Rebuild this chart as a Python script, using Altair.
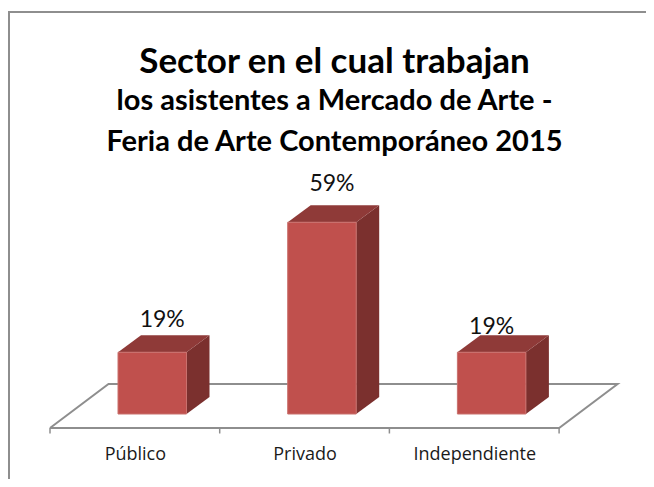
import altair as alt
import pandas as pd

categories = ["Público", "Privado", "Independiente"]
values = [19, 59, 19]
labels = ["19%", "59%", "19%"]

# scale geometry (band units on x, percent on y)
BAND = 169.7
PX = 3.25
bar_w = 68.5 / BAND
bar_off = 68 / BAND
depth_x = 23 / BAND
depth_y = 17 / PX
floor_dx = 58.5 / BAND
floor_front = -14 / PX
floor_back = 30 / PX
tick_end = -19.5 / PX
xs = alt.Scale(domain=[0, 569 / BAND], nice=False, zero=False)
ys = alt.Scale(domain=[floor_front, 254 / PX], nice=False, zero=False)
GRAY = "#8e8e8e"

front = pd.DataFrame([
    {"c": c, "x": i + bar_off, "x2": i + bar_off + bar_w, "y": 0, "y2": v}
    for i, (c, v) in enumerate(zip(categories, values))
])
side = pd.DataFrame([
    {"c": c, "x": i + bar_off + bar_w + d * depth_x, "y": d * depth_y, "y2": v + d * depth_y}
    for i, (c, v) in enumerate(zip(categories, values)) for d in (0, 1)
])
top = pd.DataFrame([
    {"c": c, "y": v + d * depth_y, "x": i + bar_off + d * depth_x, "x2": i + bar_off + bar_w + d * depth_x}
    for i, (c, v) in enumerate(zip(categories, values)) for d in (0, 1)
])
floor = pd.DataFrame({
    "o": [0, 1, 2, 3, 4],
    "x": [0, 3, 3 + floor_dx, floor_dx, 0],
    "y": [floor_front, floor_front, floor_back, floor_back, floor_front],
})
ticks = pd.DataFrame({"x": [0, 1, 2, 3], "y": [floor_front] * 4, "y2": [tick_end] * 4})

XAX = alt.Axis(
    values=[0.5, 1.5, 2.5],
    labelExpr="datum.value < 1 ? 'Público' : datum.value < 2 ? 'Privado' : 'Independiente'",
    domain=False, ticks=False, grid=False, title=None,
    labelFont="Open Sans", labelFontSize=18, labelColor="#1a1a1a",
    labelPadding=17, labelFlush=False, labelOverlap=False)
X = lambda f="x": alt.X(f"{f}:Q", scale=xs, axis=XAX)
Y = lambda f="y": alt.Y(f"{f}:Q", scale=ys, axis=None)

floor_layer = alt.Chart(floor).mark_line(color=GRAY, strokeWidth=2, strokeJoin="miter").encode(
    x=X(), y=Y(), order="o:Q")
tick_layer = alt.Chart(ticks).mark_rule(color=GRAY, strokeWidth=1.5).encode(
    x=X(), y=Y(), y2="y2:Q")
side_layer = alt.Chart(side).mark_area(color="#7b302e", orient="vertical", opacity=1).encode(
    x=X(), y=Y(), y2="y2:Q", detail="c:N")
top_layer = alt.Chart(top).mark_area(color="#8f3a38", orient="horizontal", opacity=1).encode(
    y=Y(), x=X(), x2="x2:Q", detail="c:N")
front_layer = alt.Chart(front).mark_rect(color="#c0504d", stroke="#c9706d", strokeWidth=1).encode(
    x=X(), x2="x2:Q", y=Y(), y2="y2:Q")

text_layers = []
for i, (lab, v, dx, dy) in enumerate(zip(labels, values, [10, 10, 0], [-32, -38, -25])):
    d = pd.DataFrame({"x": [i + bar_off + bar_w / 2], "y": [v], "t": [lab]})
    text_layers.append(alt.Chart(d).mark_text(
        font="Lato", fontSize=23, color="#111111", dx=dx, dy=dy, baseline="middle", align="center"
    ).encode(x=X(), y=Y(), text="t:N"))

frame_v = alt.Chart(pd.DataFrame({"a": [0]})).mark_rule(color=GRAY, strokeWidth=2).encode(
    x=alt.value(-41), y=alt.value(-149), y2=alt.value(319))
frame_h = alt.Chart(pd.DataFrame({"a": [0]})).mark_rule(color=GRAY, strokeWidth=2).encode(
    y=alt.value(-148), x=alt.value(-42), x2=alt.value(596))

chart = alt.layer(
    frame_v, frame_h, floor_layer, tick_layer, side_layer, top_layer, front_layer, *text_layers
).properties(
    width=569,
    height=268,
    padding={"left": 42, "top": 152, "right": 27, "bottom": 51},
    autosize=alt.AutoSizeParams(type="none"),
    background="white",
    title=alt.Title(
        text="Sector en el cual trabajan",
        subtitle=["los asistentes a Mercado de Arte -", "Feria de Arte Contemporáneo 2015"],
        font="Lato", fontSize=35, fontWeight="bold", color="#000000",
        subtitleFont="Lato", subtitleFontSize=29, subtitleFontWeight="bold", subtitleColor="#000000",
        subtitleLineHeight=41, subtitlePadding=7,
        anchor="middle", frame="group", offset=-147,
    ),
).configure_view(strokeWidth=0)

chart.save("out.html", embed_options={"renderer": "svg", "actions": False})
